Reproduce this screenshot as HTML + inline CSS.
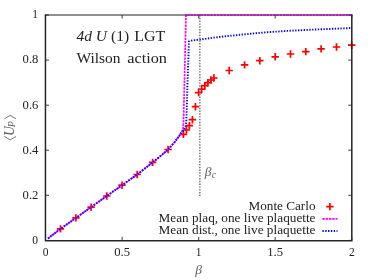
<!DOCTYPE html>
<html><head><meta charset="utf-8"><title>plot</title>
<style>
html,body{margin:0;padding:0;background:#fff;}
svg{display:block;font-family:"Liberation Serif",serif;will-change:transform;opacity:0.999;}
</style></head><body>
<svg width="374" height="280" viewBox="0 0 374 280">
<rect width="374" height="280" fill="#fff"/>
<g fill="none" stroke="#ff0000" stroke-width="1.7"><path d="M56.8 228.9H64.2M60.5 225.2V232.6"/><path d="M72.2 217.9H79.6M75.9 214.2V221.6"/><path d="M87.4 207.1H94.8M91.1 203.4V210.8"/><path d="M103.1 196.0H110.5M106.8 192.3V199.7"/><path d="M118.3 185.2H125.7M122.0 181.5V188.9"/><path d="M133.5 174.5H140.9M137.2 170.8V178.2"/><path d="M148.9 162.4H156.3M152.6 158.7V166.1"/><path d="M164.4 149.5H171.8M168.1 145.8V153.2"/><path d="M179.7 134.3H187.1M183.4 130.6V138.0"/><path d="M182.7 130.0H190.1M186.4 126.3V133.7"/><path d="M185.7 125.7H193.1M189.4 122.0V129.4"/><path d="M188.7 119.7H196.1M192.4 116.0V123.4"/><path d="M191.7 106.7H199.1M195.4 103.0V110.4"/><path d="M194.9 92.6H202.3M198.6 88.9V96.3"/><path d="M197.9 89.1H205.3M201.6 85.4V92.8"/><path d="M201.1 85.7H208.5M204.8 82.0V89.4"/><path d="M204.2 82.7H211.6M207.9 79.0V86.4"/><path d="M207.3 80.0H214.7M211.0 76.3V83.7"/><path d="M210.2 78.0H217.6M213.9 74.3V81.7"/><path d="M225.5 70.5H232.9M229.2 66.8V74.2"/><path d="M240.9 64.9H248.3M244.6 61.2V68.6"/><path d="M256.1 60.7H263.5M259.8 57.0V64.4"/><path d="M271.5 56.8H278.9M275.2 53.1V60.5"/><path d="M286.8 54.0H294.2M290.5 50.3V57.7"/><path d="M302.1 51.6H309.5M305.8 47.9V55.3"/><path d="M317.4 48.9H324.8M321.1 45.2V52.6"/><path d="M332.8 47.0H340.2M336.5 43.3V50.7"/><path d="M348.0 45.2H355.4M351.7 41.5V48.9"/><path d="M326.2 206.6H333.6M329.9 202.9V210.3"/></g>
<g fill="none" stroke="#ff00ff" stroke-width="1.7" stroke-dasharray="2.4 0.9"><polyline points="48.0,238.5 60.5,228.9 75.9,217.9 91.1,207.1 106.8,196.0 122.0,185.2 137.2,174.5 152.6,162.4 158.9,157.4 167.8,149.8 174.6,142.1 178.9,136.4 181.7,132.1 183.0,128.8 183.5,122.0 186.0,15.0 351.8,15.0"/><path d="M322.4 218.9H337.4"/></g>
<g fill="none" stroke="#0000ff" stroke-width="1.9" stroke-dasharray="1.35 1.48"><polyline points="48.0,238.5 60.5,228.9 75.9,217.9 91.1,207.1 106.8,196.0 122.0,185.2 137.2,174.5 152.6,162.4 158.9,157.4 167.8,149.8 174.6,142.1 178.9,136.4 181.7,132.1 183.4,130.6 184.7,128.5 185.7,125.7 186.3,121.4 188.9,41.5 189.8,40.8 199.7,39.6 214.0,37.6 228.0,36.0 252.0,33.6 269.0,32.1 290.0,30.7 320.0,29.3 351.8,28.0"/><path d="M322.4 231H337.4"/></g>
<g fill="none" stroke="#808080" stroke-width="1.7" stroke-dasharray="1.4 1.41"><path d="M199.8 15V196"/></g>
<g fill="none" stroke="#333" stroke-width="0.95"><path d="M45.5 240.4h3.5M351.8 240.4h-3.5"/><path d="M45.5 195.3h3.5M351.8 195.3h-3.5"/><path d="M45.5 150.2h3.5M351.8 150.2h-3.5"/><path d="M45.5 105.2h3.5M351.8 105.2h-3.5"/><path d="M45.5 60.1h3.5M351.8 60.1h-3.5"/><path d="M45.5 15.0h3.5M351.8 15.0h-3.5"/><path d="M45.5 240.4v-3.5M45.5 15.0v3.5"/><path d="M122.1 240.4v-3.5M122.1 15.0v3.5"/><path d="M198.7 240.4v-3.5M198.7 15.0v3.5"/><path d="M275.2 240.4v-3.5M275.2 15.0v3.5"/><path d="M351.8 240.4v-3.5M351.8 15.0v3.5"/></g><g fill="none" stroke="#222" stroke-width="1.1"><path d="M44.8 15.0H352.5"/></g>
<g fill="none" stroke="#262626" stroke-width="1.5"><path d="M45.45 14.5V241.3M351.8 14.5V241.3M44.8 240.65H352.5"/></g>
<clipPath id="tc"><rect x="186.5" y="12" width="167" height="6"/></clipPath>
<g fill="none" stroke="#ff00ff" stroke-width="1.7" stroke-dasharray="2.4 0.9" opacity="0.5" clip-path="url(#tc)"><polyline points="48.0,238.5 60.5,228.9 75.9,217.9 91.1,207.1 106.8,196.0 122.0,185.2 137.2,174.5 152.6,162.4 158.9,157.4 167.8,149.8 174.6,142.1 178.9,136.4 181.7,132.1 183.0,128.8 183.5,122.0 186.0,15.0 351.8,15.0"/></g>
<g font-size="11.5" fill="#222"><text x="37.9" y="244.3" text-anchor="end">0</text><text x="38.4" y="199.1" text-anchor="end" textLength="15.8" lengthAdjust="spacingAndGlyphs">0.2</text><text x="38.4" y="153.9" text-anchor="end" textLength="15.8" lengthAdjust="spacingAndGlyphs">0.4</text><text x="38.4" y="108.6" text-anchor="end" textLength="15.8" lengthAdjust="spacingAndGlyphs">0.6</text><text x="38.4" y="63.4" text-anchor="end" textLength="15.8" lengthAdjust="spacingAndGlyphs">0.8</text><text x="37.9" y="18.2" text-anchor="end">1</text><text x="45.5" y="256.1" text-anchor="middle">0</text><text x="122.1" y="256.1" text-anchor="middle" textLength="15.8" lengthAdjust="spacingAndGlyphs">0.5</text><text x="198.7" y="256.1" text-anchor="middle">1</text><text x="275.2" y="256.1" text-anchor="middle" textLength="15.8" lengthAdjust="spacingAndGlyphs">1.5</text><text x="351.8" y="256.1" text-anchor="middle">2</text></g>
<g font-size="15.5" fill="#222">
<text y="41"><tspan x="76.4" font-style="italic">4d</tspan><tspan x="95.8" font-style="italic">U</tspan><tspan x="111.0">(1)</tspan><tspan x="134.2" textLength="31.2" lengthAdjust="spacingAndGlyphs">LGT</tspan></text>
<text y="63.3"><tspan x="76.5" textLength="44" lengthAdjust="spacingAndGlyphs">Wilson</tspan><tspan x="127.2" textLength="39.8" lengthAdjust="spacingAndGlyphs">action</tspan></text>
</g>
<g font-size="11.5" fill="#222" text-anchor="end">
<text x="315.5" y="210.0" textLength="67" lengthAdjust="spacingAndGlyphs">Monte Carlo</text>
<text x="315.5" y="222.1" textLength="157" lengthAdjust="spacingAndGlyphs">Mean plaq, one live plaquette</text>
<text x="315.5" y="234.2" textLength="157" lengthAdjust="spacingAndGlyphs">Mean dist., one live plaquette</text>
</g>
<g fill="#606060" font-style="italic">
<text x="204.7" y="175.5" font-size="13.5">β<tspan font-size="9.5" dy="2" dx="0.3">c</tspan></text>
<text x="198.6" y="273.5" font-size="13.5" text-anchor="middle">β</text>
<text transform="translate(13.8,136) rotate(-90)" font-size="13.7">U<tspan font-size="10" dy="1.6" dx="-1.2">P</tspan></text>
</g>
<g fill="none" stroke="#555" stroke-width="0.8"><path d="M4.4 118.8L10.2 115.4L16 118.8"/><path d="M4.4 136.5L10.2 139.8L16 136.5"/></g>
</svg>
</body></html>
